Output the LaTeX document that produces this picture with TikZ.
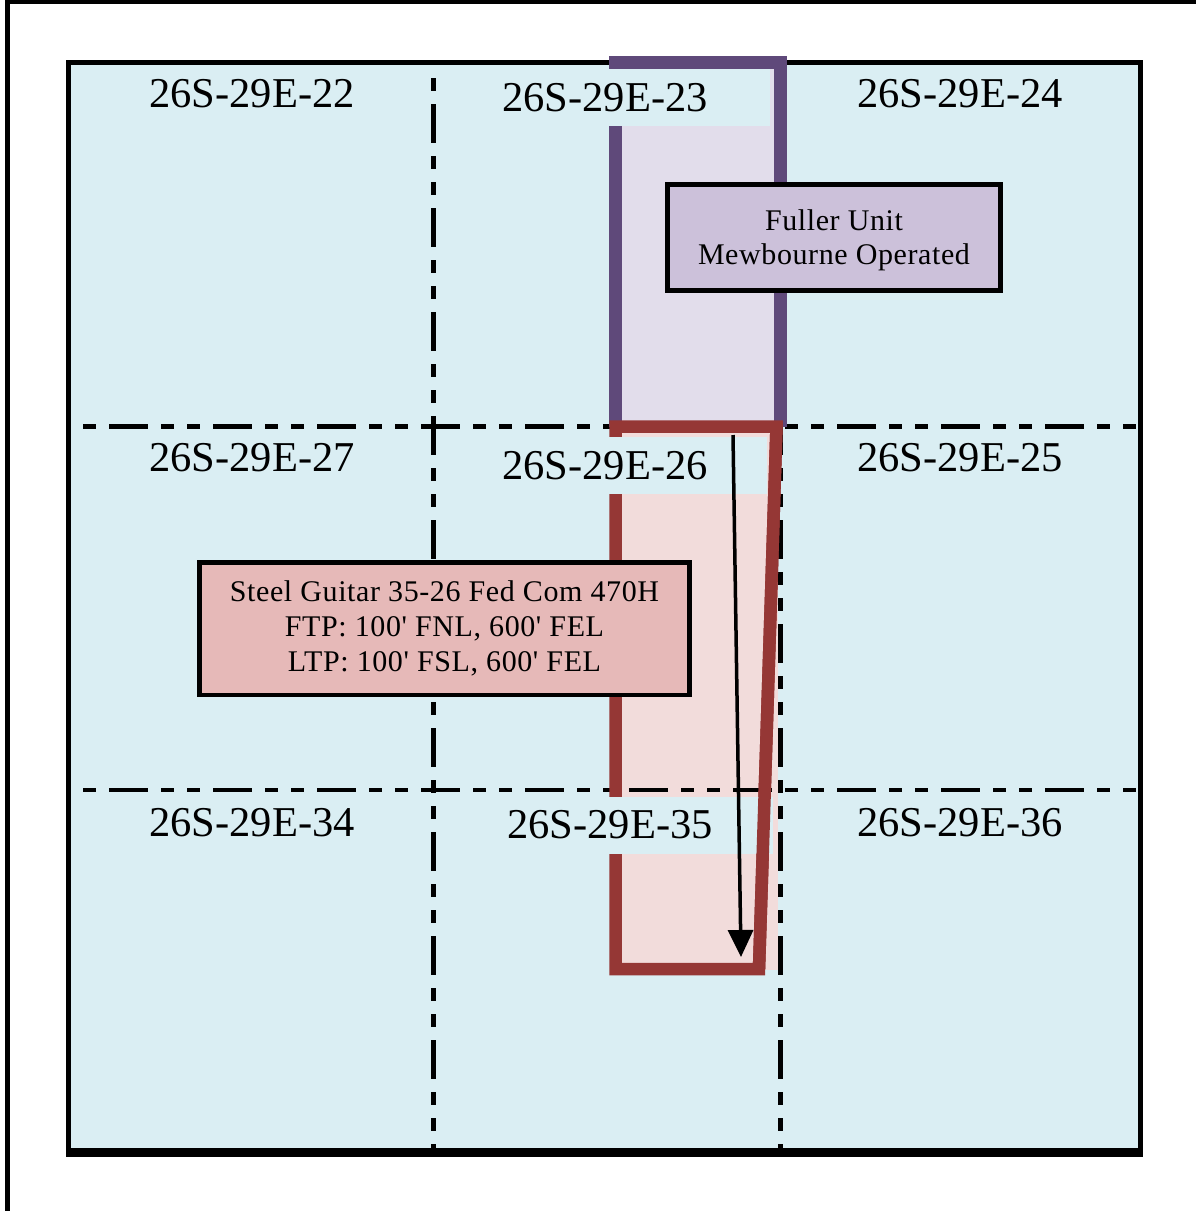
\documentclass[tikz,border=0pt]{standalone}
\usepackage{fontspec}
\setmainfont{Liberation Serif}[Ligatures=TeXOff]
\usetikzlibrary{arrows.meta}
\definecolor{bgblue}{HTML}{DAEEF3}
\definecolor{lavfill}{HTML}{E2DDEB}
\definecolor{purpline}{HTML}{5F497A}
\definecolor{fullerfill}{HTML}{CCC1DA}
\definecolor{redline}{HTML}{953735}
\definecolor{pinkfill}{HTML}{F2DCDB}
\definecolor{steelfill}{HTML}{E6B9B8}
\tikzset{
  secline/.style={line width=4.5pt, dash pattern=on 39pt off 13pt on 13pt off 13pt on 13pt off 13pt, dash phase=65pt},
  seclab/.style={font=\fontsize{42.5}{50}\selectfont, inner sep=0pt},
  midlab/.style={seclab, fill=bgblue, minimum height=57pt},
  callout/.style={draw=black, line width=4.5pt, inner sep=0pt, align=center},
  unitline/.style={draw=purpline, line width=13pt, line join=miter},
  wellline/.style={draw=redline, line width=12.5pt, line join=miter},
  wellarrow/.style={line width=3.5pt, -{Triangle[width=25pt,length=27pt]}}
}
\begin{document}
\begin{tikzpicture}[x=1pt,y=-1pt]
\useasboundingbox (0,0) rectangle (1196,1211);
\clip (0,0) rectangle (1196,1211);
% outer frame
\draw[line width=4.5pt] (7.5,1230) -- (7.5,2) -- (1230,2);
% map background
\draw[fill=bgblue, line width=5pt] (68.5,62.5) rectangle (1140.5,1150.5);
\draw[line width=9pt] (66,1152.5) -- (1143,1152.5);
% unit / spacing fills
\fill[lavfill] (615.5,62.5) rectangle (780.5,426.5);
\fill[pinkfill] (615.5,426.5) rectangle (778,970);
% section lines
\draw[secline] (70,426.5) -- (1138,426.5);
\draw[secline] (70,790) -- (1138,790);
\draw[secline] (433.5,65) -- (433.5,1148);
\draw[secline] (780.5,65) -- (780.5,1148);
% outlines
\draw[unitline] (615.5,426.5) -- (615.5,62.5) -- (780.5,62.5) -- (780.5,426.5);
\coordinate (wtr) at (776.5,426.5);
\coordinate (wbr) at (759,969);
\draw[wellline] (615.5,426.5) -- (wtr) -- (wbr) -- (615.5,969) -- cycle;
% section labels
\node[seclab, anchor=base] (s22) at (252,107) {26S-29E-22};
\node[midlab, minimum width=330pt] (s23) at (605,97.5) {26S-29E-23};
\node[seclab, anchor=base] (s24) at (960,107) {26S-29E-24};
\node[seclab, anchor=base] (s27) at (252,471) {26S-29E-27};
\node[midlab, minimum width=324pt] (s26) at (605,465.5) {26S-29E-26};
\node[seclab, anchor=base] (s25) at (960,471) {26S-29E-25};
\node[seclab, anchor=base] (s34) at (252,836) {26S-29E-34};
\node[midlab, minimum width=326pt] (s35) at (610,825) {26S-29E-35};
\node[seclab, anchor=base] (s36) at (960,836) {26S-29E-36};
% east edge of the spacing unit, above the labels
\draw[draw=redline, line width=12.5pt] (wtr) -- (wbr);
% wellbore arrow
\coordinate (fth) at (733,435);
\coordinate (lth) at (741,957);
\draw[wellarrow] (fth) -- (lth);
% callouts
\node[callout, fill=fullerfill, minimum width=333pt, minimum height=106pt,
  font=\fontsize{30}{34}\selectfont\addfontfeature{LetterSpace=2}] (fuller) at (834,237.5)
  {\rule{0pt}{27pt}Fuller Unit\\Mewbourne Operated};
\node[callout, fill=steelfill, minimum width=490pt, minimum height=132.5pt,
  font=\fontsize{30}{35}\selectfont\addfontfeature{LetterSpace=2}] (steel) at (444.5,628.75)
  {Steel Guitar 35-26 Fed Com 470H\\FTP: 100' FNL, 600' FEL\\LTP: 100' FSL, 600' FEL};
\end{tikzpicture}
\end{document}
